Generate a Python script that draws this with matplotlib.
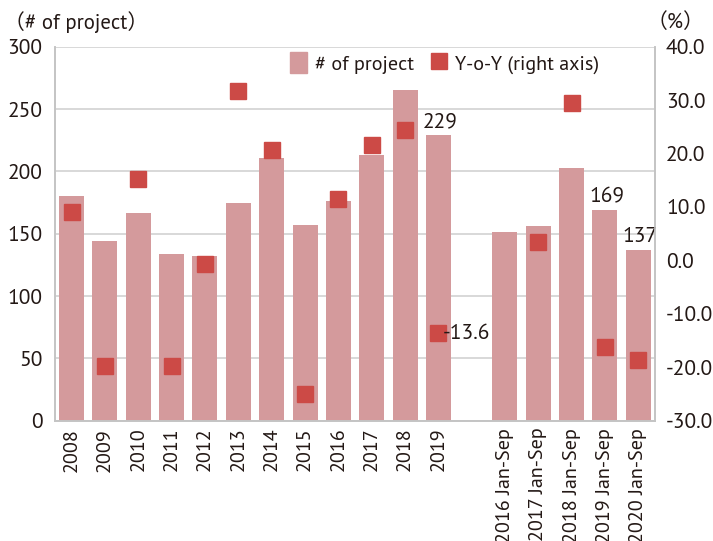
import numpy as np
import matplotlib
matplotlib.use('Agg')
import matplotlib.pyplot as plt
import matplotlib.patches as mpatches
from matplotlib.lines import Line2D

plt.rcParams['font.family'] = ['PT Sans', 'Noto Sans CJK JP', 'DejaVu Sans']

# ── data ───────────────────────────────────────────────
categories = ['2008', '2009', '2010', '2011', '2012', '2013', '2014', '2015',
              '2016', '2017', '2018', '2019', '',
              '2016 Jan-Sep', '2017 Jan-Sep', '2018 Jan-Sep', '2019 Jan-Sep', '2020 Jan-Sep']
projects = [180, 144, 167, 134, 132, 175, 211, 157, 176, 213, 265, 229, np.nan,
            151, 156, 203, 169, 137]
yoy = [9.1, -19.8, 15.2, -19.8, -0.7, 31.7, 20.7, -25.0, 11.5, 21.6, 24.4, -13.6, np.nan,
       np.nan, 3.5, 29.5, -16.2, -18.6]
bar_labels = {11: '229', 16: '169', 17: '137'}
yoy_labels = {11: '-13.6'}

BAR_C = '#D49A9C'
MRK_C = '#CC4A46'
GRID_C = '#D2D2D2'
TXT_C = '#231815'

x = np.arange(len(categories))

fig = plt.figure(figsize=(7.13, 5.41), dpi=100)
ax = fig.add_axes([55/713, 120.3/541, 600/713, 374/541])
ax2 = ax.twinx()

ax.bar(x, projects, width=0.75, color=BAR_C, zorder=2)
ax.set_xlim(-0.5, 17.5)
ax.set_ylim(0, 300)
ax.set_yticks(np.arange(0, 301, 50))
ax.yaxis.grid(True, color=GRID_C, lw=1.2, zorder=0)
ax.set_axisbelow(True)
ax.set_xticks(x)
ax.set_xticklabels(categories, rotation=90, color=TXT_C)
ax.tick_params(axis='y', length=0, labelsize=15.5, colors=TXT_C, pad=9)
ax.tick_params(axis='x', length=0, labelsize=14.5, colors=TXT_C, pad=5)

ax2.plot(x, yoy, ls='none', marker='s', ms=11.5, color=MRK_C, zorder=3)
ax2.set_ylim(-30, 40)
ax2.set_yticks(np.arange(-30, 41, 10))
ax2.set_yticklabels([f'{v:.1f}' for v in np.arange(-30, 41, 10)])
ax2.tick_params(axis='y', length=0, labelsize=15.5, colors=TXT_C, pad=8)

for a in (ax, ax2):
    a.spines['top'].set_visible(False)
    for s in ('left', 'right', 'bottom'):
        a.spines[s].set_color('#C4C4C4')
        a.spines[s].set_linewidth(1.2)

for i, t in bar_labels.items():
    ax.text(x[i] + 0.05, projects[i] + 3, t, fontsize=15.5, color=TXT_C,
            ha='center', va='bottom')
for i, t in yoy_labels.items():
    ax2.text(x[i] + 0.13, yoy[i], t, fontsize=15.5, color=TXT_C,
             ha='left', va='center')

fig.text(4/713, 1 - 22/541, '（# of project）', fontsize=15, color=TXT_C,
         ha='left', va='center')
fig.text(704/713, 1 - 22/541, '（%）', fontsize=15, color=TXT_C,
         ha='right', va='center')

h1 = mpatches.Patch(color=BAR_C, label='# of project')
h2 = Line2D([], [], ls='none', marker='s', ms=11.5, color=MRK_C, label='Y-o-Y (right axis)')
fig.legend(handles=[h1, h2], ncol=2, frameon=False, loc='center left',
           bbox_to_anchor=(290/713, 1 - 63/541), fontsize=14.5,
           handlelength=0.85, handleheight=1.25, handletextpad=0.4,
           columnspacing=0.8, borderpad=0, borderaxespad=0, labelcolor=TXT_C)

fig.savefig('out.png', dpi=100, facecolor='white')
